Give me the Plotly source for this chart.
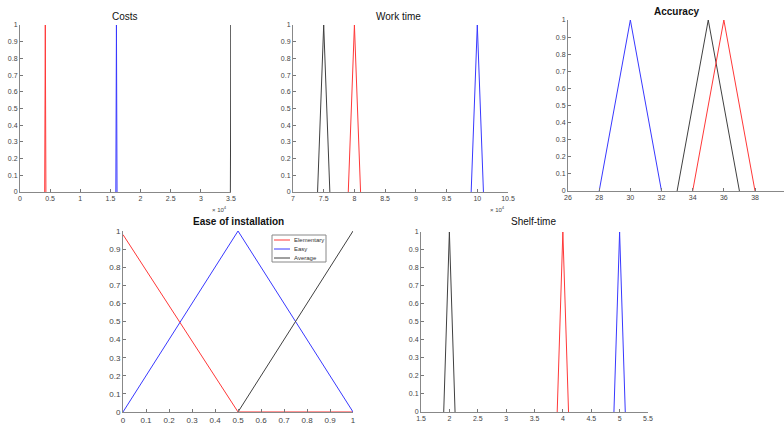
import plotly.graph_objects as go

# ---- data ----
cost_red = [4100, 4200, 4300]
cost_blue = [15900, 16000, 16100]
cost_black = [34900, 35000, 35100]
tri_y = [0, 1, 0]

work_black = [74000, 75000, 76000]
work_red = [79000, 80000, 81000]
work_blue = [99000, 100000, 101000]

acc_blue = [28, 30, 32]
acc_black = [33, 35, 37]
acc_red = [34, 36, 38]

ease_x = [0, 0.5, 1]
ease_red_y = [0.98, 0, 0]
ease_blue_y = [0, 1, 0]
ease_black_x = [0.5, 1]
ease_black_y = [0, 1]
ease_names = ["Elementary", "Easy", "Average"]

shelf_black = [1.9, 2, 2.1]
shelf_red = [3.9, 4, 4.1]
shelf_blue = [4.9, 5, 5.1]

costs_ticks = [0, 0.5, 1, 1.5, 2, 2.5, 3, 3.5]
work_ticks = [7, 7.5, 8, 8.5, 9, 9.5, 10, 10.5]
acc_ticks = [26, 28, 30, 32, 34, 36, 38, 40]
ease_ticks = [0, 0.1, 0.2, 0.3, 0.4, 0.5, 0.6, 0.7, 0.8, 0.9, 1]
shelf_ticks = [1.5, 2, 2.5, 3, 3.5, 4, 4.5, 5, 5.5]
y_ticks = [0, 0.1, 0.2, 0.3, 0.4, 0.5, 0.6, 0.7, 0.8, 0.9, 1]

RED, BLUE, BLACK = "#ff3838", "#3838ff", "#404040"
SCALE = 1e4
W, H = 784, 426
FONT = "Liberation Sans, Arial, sans-serif"

fig = go.Figure()

def line(x, y, color, ax):
    fig.add_trace(go.Scatter(x=x, y=y, mode="lines", line=dict(color=color, width=1),
                             xaxis="x" + ax, yaxis="y" + ax, showlegend=False,
                             hoverinfo="skip"))

line([v / SCALE for v in cost_red], tri_y, RED, "")
line([v / SCALE for v in cost_blue], tri_y, BLUE, "")
line([v / SCALE for v in cost_black], tri_y, BLACK, "")

line([v / SCALE for v in work_black], tri_y, BLACK, "2")
line([v / SCALE for v in work_red], tri_y, RED, "2")
line([v / SCALE for v in work_blue], tri_y, BLUE, "2")

line(acc_blue, tri_y, BLUE, "3")
line(acc_black, tri_y, BLACK, "3")
line(acc_red, tri_y, RED, "3")

line(ease_x, ease_red_y, RED, "4")
line(ease_x, ease_blue_y, BLUE, "4")
line(ease_black_x, ease_black_y, BLACK, "4")

line(shelf_black, tri_y, BLACK, "5")
line(shelf_red, tri_y, RED, "5")
line(shelf_blue, tri_y, BLUE, "5")

def xax(dom, rng, ticks, anchor, fs=7):
    return dict(domain=dom, range=rng, tickvals=ticks, ticktext=[f"{t:g}" for t in ticks],
                ticks="inside", ticklen=3, tickcolor="#777777", showline=True,
                linecolor="#888888", linewidth=1, showgrid=False, zeroline=False,
                tickfont=dict(size=fs, color="#444444", family=FONT),
                anchor=anchor, fixedrange=True, automargin=False)

def yax(dom, anchor, fs=7):
    return dict(domain=dom, range=[0, 1], tickvals=y_ticks, ticktext=[f"{t:g}" for t in y_ticks],
                ticks="inside", ticklen=3, tickcolor="#777777", showline=True,
                linecolor="#888888", linewidth=1, showgrid=False, zeroline=False,
                tickfont=dict(size=fs, color="#444444", family=FONT),
                anchor=anchor, fixedrange=True, automargin=False)

top = [0.5493, 0.9413]
fig.update_layout(
    width=W, height=H, margin=dict(l=0, r=0, t=0, b=0, autoexpand=False),
    paper_bgcolor="white", plot_bgcolor="white", showlegend=False,
    xaxis=xax([0.0255, 0.2946], [0, 3.5], costs_ticks, "y"),
    yaxis=yax(top, "x"),
    xaxis2=xax([0.3737, 0.648], [7, 10.5], work_ticks, "y2"),
    yaxis2=yax(top, "x2"),
    xaxis3=xax([0.7245, 1.0], [26, 39.86], acc_ticks, "y3"),
    yaxis3=yax([0.5516, 0.953], "x3"),
    xaxis4=xax([0.1569, 0.4503], [0, 1], ease_ticks, "y4", fs=8),
    yaxis4=yax([0.0329, 0.4577], "x4", fs=8),
    xaxis5=xax([0.537, 0.8265], [1.5, 5.5], shelf_ticks, "y5"),
    yaxis5=yax([0.0329, 0.4554], "x5"),
    font=dict(family=FONT),
)

titles = [
    ("Costs", 0.1594, 0.9624, False),
    ("Work time", 0.5077, 0.9624, False),
    ("Accuracy", 0.8635, 0.974, True),
    ("Ease of installation", 0.3036, 0.479, True),
    ("Shelf-time", 0.680, 0.479, False),
]
for text, x, y, bold in titles:
    fig.add_annotation(text=f"<b>{text}</b>" if bold else text, x=x, y=y, xref="paper", yref="paper",
                       showarrow=False, xanchor="center", yanchor="middle",
                       font=dict(size=10, color="#111111"))

for x in [0.2806, 0.634]:
    fig.add_annotation(text="× 10<sup>4</sup>", x=x, y=0.509, xref="paper", yref="paper",
                       showarrow=False, xanchor="center", yanchor="middle",
                       font=dict(size=6, color="#444444"))

# compact legend box for the "Ease of installation" panel
lg_x0, lg_x1, lg_y0, lg_y1 = 272, 326, 235, 262
fig.add_shape(type="rect", xref="paper", yref="paper",
              x0=lg_x0 / W, x1=lg_x1 / W, y0=1 - lg_y1 / H, y1=1 - lg_y0 / H,
              line=dict(color="#888888", width=1), fillcolor="white")
for i, (name, col) in enumerate(zip(ease_names, [RED, BLUE, BLACK])):
    py = 240 + i * 9
    fig.add_shape(type="line", xref="paper", yref="paper",
                  x0=274 / W, x1=290 / W, y0=1 - py / H, y1=1 - py / H,
                  line=dict(color=col, width=1))
    fig.add_annotation(text=name, x=292 / W, y=1 - py / H, xref="paper", yref="paper",
                       showarrow=False, xanchor="left", yanchor="middle",
                       font=dict(size=6, color="#333333", family=FONT))

fig.write_html("out.html", config={"displayModeBar": False},
               post_script="document.body.style.margin='0';document.body.style.padding='0';")
